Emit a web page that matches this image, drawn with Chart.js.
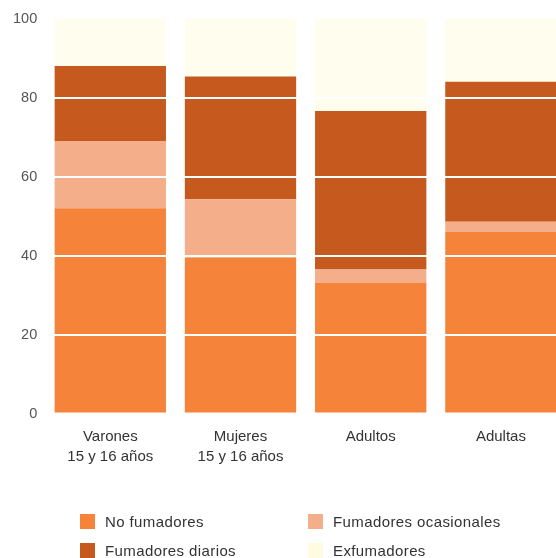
<!DOCTYPE html>
<html>
<head>
<meta charset="utf-8">
<script src="https://cdn.jsdelivr.net/npm/chart.js@4/dist/chart.umd.min.js"></script>
<style>
  html, body { margin: 0; padding: 0; background: #ffffff; overflow: hidden; width: 556px; height: 558px; }
  #wrap { position: relative; width: 570px; height: 558px; }
  #legend { position: absolute; left: 0; top: 0; width: 556px; height: 558px; pointer-events: none;
            font-family: "Liberation Sans", Arial, sans-serif; font-size: 15px; color: #333; letter-spacing: 0.4px; }
  .item { position: absolute; display: flex; align-items: center; white-space: nowrap; }
  .sw { width: 15px; height: 15px; margin-right: 10px; }
</style>
</head>
<body>
<div id="wrap">
  <canvas id="c" width="570" height="558"></canvas>
  <div id="legend"></div>
</div>
<script>
const categories = [["Varones", "15 y 16 años"], ["Mujeres", "15 y 16 años"], ["Adultos"], ["Adultas"]];
const seriesNames = ["No fumadores", "Fumadores ocasionales", "Fumadores diarios", "Exfumadores"];
const noFumadores = [52.0, 39.5, 33.1, 46.0];
const fumOcasionales = [17.1, 14.8, 3.4, 2.6];
const fumDiarios = [19.0, 31.1, 40.2, 35.5];
const exFumadores = [11.9, 14.6, 23.3, 15.9];
const yTicks = [0, 20, 40, 60, 80, 100];

const colors = ["#f6833a", "#f5ae8a", "#c65a1e", "#fffdee"];
const legendColors = ["#f6833a", "#f5ae8a", "#c65a1e", "#fffbe0"];
const values = [noFumadores, fumOcasionales, fumDiarios, exFumadores];

const font = "'Liberation Sans', Arial, sans-serif";

const chart = new Chart(document.getElementById('c'), {
  type: 'bar',
  data: {
    labels: categories,
    datasets: seriesNames.map((n, i) => ({
      label: n,
      data: values[i],
      backgroundColor: colors[i],
      borderWidth: 0,
      barPercentage: 0.855,
      categoryPercentage: 1.0
    }))
  },
  options: {
    responsive: false,
    animation: false,
    layout: { padding: { left: 5, right: 4, top: 19, bottom: 86 } },
    plugins: { legend: { display: false }, tooltip: { enabled: false } },
    scales: {
      x: {
        stacked: true,
        grid: { display: false },
        border: { display: false },
        ticks: { color: '#333', font: { family: font, size: 15, lineHeight: 1.35 }, padding: 5, maxRotation: 0 }
      },
      y: {
        stacked: true,
        min: 0, max: 100,
        afterBuildTicks: (s) => { s.ticks = yTicks.map(v => ({ value: v })); },
        grid: {
          z: 1,
          drawTicks: false,
          lineWidth: 2,
          color: (ctx) => (ctx.tick && (ctx.tick.value === 0 || ctx.tick.value === 100)) ? 'rgba(0,0,0,0)' : '#ffffff'
        },
        border: { display: false },
        ticks: { color: '#555', font: { family: font, size: 14.5 }, padding: 8 }
      }
    }
  }
});

const leg = document.getElementById('legend');
const pos = [[80, 521], [308, 521], [80, 550], [308, 550]];
seriesNames.forEach((n, i) => {
  const d = document.createElement('div');
  d.className = 'item';
  d.style.left = pos[i][0] + 'px';
  d.style.top = (pos[i][1] - 9) + 'px';
  d.style.height = '18px';
  d.innerHTML = '<span class="sw" style="background:' + legendColors[i] + '"></span><span>' + n + '</span>';
  leg.appendChild(d);
});
</script>
</body>
</html>
